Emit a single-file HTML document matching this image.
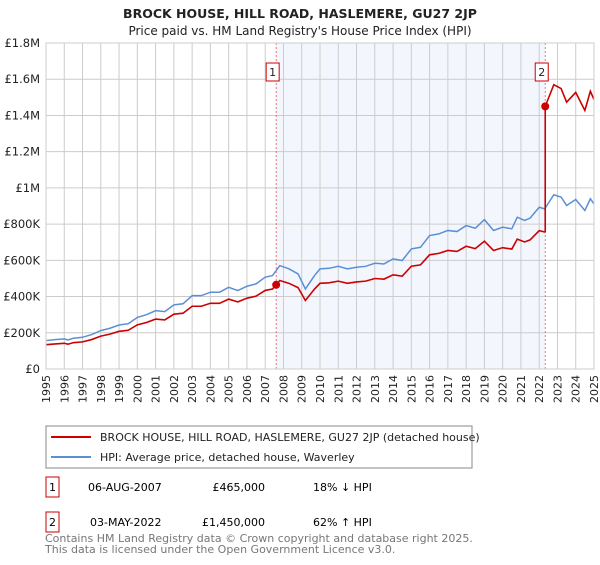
<!DOCTYPE html>
<html><head><meta charset="utf-8"><style>
body{margin:0;background:#fff;font-family:"Liberation Sans","DejaVu Sans",sans-serif;}
svg text{font-family:"DejaVu Sans","Liberation Sans",sans-serif;}
</style></head><body>
<svg id="c" width="600" height="560" xmlns="http://www.w3.org/2000/svg">
<text x="300" y="18" text-anchor="middle" font-size="12.5" font-weight="bold" fill="#222">BROCK HOUSE, HILL ROAD, HASLEMERE, GU27 2JP</text>
<text x="300" y="35" text-anchor="middle" font-size="12" fill="#222">Price paid vs. HM Land Registry's House Price Index (HPI)</text>
<g id="plot"></g>
<rect x="46" y="426" width="426" height="42" fill="#fff" stroke="#888"/>
<line x1="51" y1="437" x2="91" y2="437" stroke="#cc0000" stroke-width="2"/>
<text x="100" y="441" font-size="11" fill="#222">BROCK HOUSE, HILL ROAD, HASLEMERE, GU27 2JP (detached house)</text>
<line x1="51" y1="457" x2="91" y2="457" stroke="#5b8fd4" stroke-width="2"/>
<text x="100" y="461" font-size="11" fill="#222">HPI: Average price, detached house, Waverley</text>
<g>
<rect x="46" y="477" width="13" height="20" fill="#fff" stroke="#cc0000"/>
<text x="52.5" y="491" text-anchor="middle" font-size="11">1</text>
<text x="88" y="491" font-size="11">06-AUG-2007</text>
<text x="265" y="491" text-anchor="end" font-size="11">£465,000</text>
<text x="313" y="491" font-size="11">18% ↓ HPI</text></g>
<g>
<rect x="46" y="512" width="13" height="20" fill="#fff" stroke="#cc0000"/>
<text x="52.5" y="526" text-anchor="middle" font-size="11">2</text>
<text x="90" y="526" font-size="11">03-MAY-2022</text>
<text x="265" y="526" text-anchor="end" font-size="11">£1,450,000</text>
<text x="313" y="526" font-size="11">62% ↑ HPI</text></g>
<text x="45" y="542" font-size="11" fill="#777">Contains HM Land Registry data © Crown copyright and database right 2025.</text>
<text x="45" y="553" font-size="11" fill="#777">This data is licensed under the Open Government Licence v3.0.</text>
</svg>
<script>
const hpiYears=[1995,1995.5,1996,1996.2,1996.5,1997,1997.5,1998,1998.5,1999,1999.5,2000,2000.5,2001,2001.5,2002,2002.5,2003,2003.5,2004,2004.5,2005,2005.5,2006,2006.5,2007,2007.4,2007.8,2008.3,2008.8,2009.2,2009.7,2010,2010.5,2011,2011.5,2012,2012.5,2013,2013.5,2014,2014.5,2015,2015.5,2016,2016.5,2017,2017.5,2018,2018.5,2019,2019.5,2020,2020.5,2020.8,2021.2,2021.5,2022,2022.3,2022.8,2023.2,2023.5,2024,2024.5,2024.8,2025];
const hpiValues=[157,162,166,160,170,175,190,212,225,243,250,285,300,322,317,354,360,405,405,424,424,451,433,457,470,507,516,571,553,525,442,516,553,556,567,553,562,567,584,580,608,599,663,672,737,746,765,759,792,777,825,765,783,774,838,820,833,893,884,962,949,903,936,875,940,912];
const saleYears=[2007.6,2022.33];
const salePrices=[465,1450];
const saleLabels=["1","2"];
const yTicks=[0,200,400,600,800,1000,1200,1400,1600,1800];
const yTickLabels=["£0","£200K","£400K","£600K","£800K","£1M","£1.2M","£1.4M","£1.6M","£1.8M"];
const xTicks=[];for(let y=1995;y<=2025;y++)xTicks.push(y);
const X0=46,X1=594,Y0=369,Y1=43;
const xs=v=>X0+(v-1995)/30*(X1-X0);
const ys=v=>Y0-v/1800*(Y0-Y1);
const NS="http://www.w3.org/2000/svg";
const g=document.getElementById('plot');
function mk(t,a){const e=document.createElementNS(NS,t);for(const k in a)e.setAttribute(k,a[k]);g.appendChild(e);return e;}
function hpiAt(t){for(let i=1;i<hpiYears.length;i++){if(t<=hpiYears[i]){const f=(t-hpiYears[i-1])/(hpiYears[i]-hpiYears[i-1]);return hpiValues[i-1]+f*(hpiValues[i]-hpiValues[i-1]);}}return hpiValues[hpiValues.length-1];}
let sh=mk('rect',{x:xs(saleYears[0]),y:Y1,width:xs(saleYears[1])-xs(saleYears[0]),height:Y0-Y1,fill:'#eef3fc',opacity:0.7});


xTicks.forEach(t=>{let l=mk('line',{x1:xs(t),x2:xs(t),y1:Y1,y2:Y0,stroke:'#ccc'});


let tx=mk('text',{x:0,y:0,'font-size':11,fill:'#222','text-anchor':'end',transform:`translate(${xs(t)+4},${Y0+6}) rotate(-90)`});tx.textContent=t;

});
yTicks.forEach((t,i)=>{let l=mk('line',{x1:X0,x2:X1,y1:ys(t),y2:ys(t),stroke:'#ccc'});


let tx=mk('text',{x:40,y:ys(t)+4,'font-size':11.5,fill:'#222','text-anchor':'end'});tx.textContent=yTickLabels[i];

});
saleYears.forEach(s=>{let l=mk('line',{x1:xs(s),x2:xs(s),y1:Y1,y2:Y0,stroke:'#e55','stroke-dasharray':'2,2','stroke-width':0.8});

});
let hp=mk('polyline',{points:hpiYears.map((t,i)=>xs(t)+','+ys(hpiValues[i])).join(' '),fill:'none',stroke:'#5b8fd4','stroke-width':1.5});


// property line: HPI-indexed from most recent sale
const r0=salePrices[0]/hpiAt(saleYears[0]),r1=salePrices[1]/hpiAt(saleYears[1]);
let pts=[];
hpiYears.forEach((t,i)=>{if(t<saleYears[1])pts.push([t,hpiValues[i]*r0]);});
pts.push([saleYears[1],hpiAt(saleYears[1])*r0]);pts.push([saleYears[1],salePrices[1]]);
hpiYears.forEach((t,i)=>{if(t>saleYears[1])pts.push([t,hpiValues[i]*r1]);});
let pl=mk('polyline',{points:pts.map(p=>xs(p[0])+','+ys(p[1])).join(' '),fill:'none',stroke:'#cc0000','stroke-width':1.6});


saleYears.forEach((s,i)=>{let c=mk('circle',{cx:xs(s),cy:ys(salePrices[i]),r:4,fill:'#cc0000'});


let b=mk('rect',{x:xs(s)-10,y:63,width:13,height:18,fill:'#fff',stroke:'#cc0000'});


let t=mk('text',{x:xs(s)-3.5,y:76,'font-size':11,'text-anchor':'middle',fill:'#222'});t.textContent=saleLabels[i];

});
let ax=mk('rect',{x:X0,y:Y1,width:X1-X0,height:Y0-Y1,fill:'none',stroke:'#ccc'});


</script>
</body></html>
